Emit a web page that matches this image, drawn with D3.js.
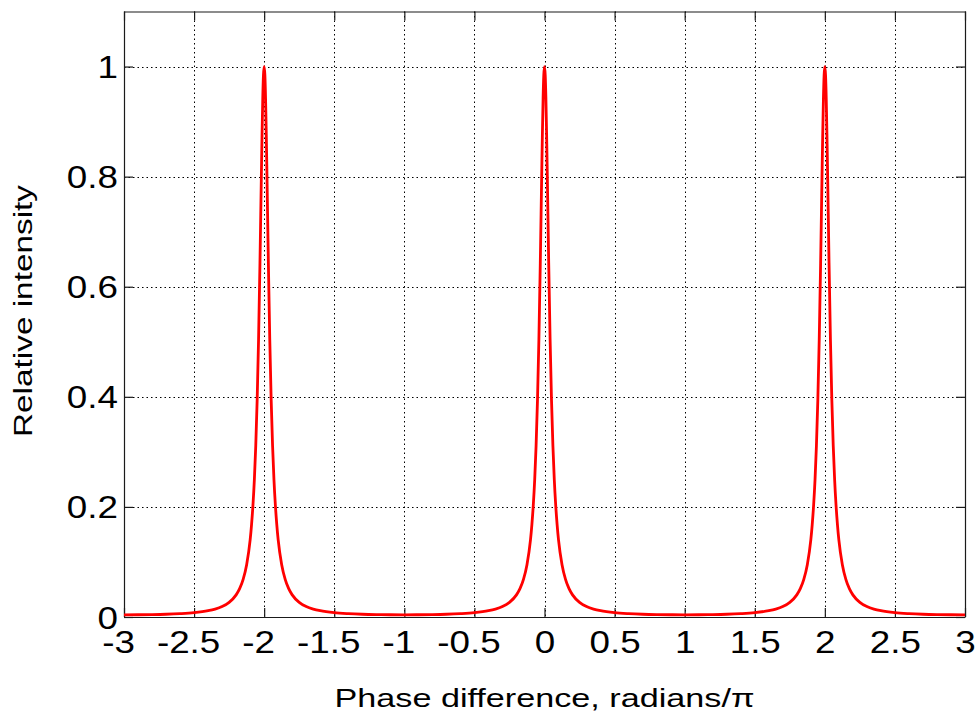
<!DOCTYPE html>
<html>
<head>
<meta charset="utf-8">
<script src="https://cdn.jsdelivr.net/npm/d3@7"></script>
<style>
  html, body { margin: 0; padding: 0; background: #fff; }
  svg { display: block; font-family: "Liberation Sans", Arial, Helvetica, sans-serif; }
</style>
</head>
<body>
<svg id="chart" width="979" height="720"></svg>
<script>
// Transmitted intensity versus phase difference (in units of pi)
const phase = [
  -3, -2.9, -2.8, -2.7, -2.6, -2.5, -2.4, -2.35, -2.3, -2.25, -2.2, -2.175, -2.15, -2.125, -2.1,
  -2.09, -2.08, -2.07, -2.06, -2.05, -2.04, -2.03, -2.02, -2.015, -2.01, -2.005,
  -2,
  -1.995, -1.99, -1.985, -1.98, -1.97, -1.96, -1.95, -1.94, -1.93, -1.92, -1.91,
  -1.9, -1.875, -1.85, -1.825, -1.8, -1.75, -1.7, -1.65, -1.6, -1.5, -1.4, -1.3, -1.2, -1.1,
  -1, -0.9, -0.8, -0.7, -0.6, -0.5, -0.4, -0.35, -0.3, -0.25, -0.2, -0.175, -0.15, -0.125, -0.1,
  -0.09, -0.08, -0.07, -0.06, -0.05, -0.04, -0.03, -0.02, -0.015, -0.01, -0.005,
  0,
  0.005, 0.01, 0.015, 0.02, 0.03, 0.04, 0.05, 0.06, 0.07, 0.08, 0.09,
  0.1, 0.125, 0.15, 0.175, 0.2, 0.25, 0.3, 0.35, 0.4, 0.5, 0.6, 0.7, 0.8, 0.9,
  1, 1.1, 1.2, 1.3, 1.4, 1.5, 1.6, 1.65, 1.7, 1.75, 1.8, 1.825, 1.85, 1.875, 1.9,
  1.91, 1.92, 1.93, 1.94, 1.95, 1.96, 1.97, 1.98, 1.985, 1.99, 1.995,
  2,
  2.005, 2.01, 2.015, 2.02, 2.03, 2.04, 2.05, 2.06, 2.07, 2.08, 2.09,
  2.1, 2.125, 2.15, 2.175, 2.2, 2.25, 2.3, 2.35, 2.4, 2.5, 2.6, 2.7, 2.8, 2.9, 3
];
const intensity = [
  0.0040, 0.0041, 0.0044, 0.0050, 0.0061, 0.0079, 0.0114, 0.0144, 0.0190, 0.0266, 0.0402, 0.0515, 0.0684, 0.0951, 0.140,
  0.168, 0.203, 0.249, 0.311, 0.394, 0.504, 0.643, 0.802, 0.878, 0.942, 0.985,
  1,
  0.985, 0.942, 0.878, 0.802, 0.643, 0.504, 0.394, 0.311, 0.249, 0.203, 0.168,
  0.140, 0.0951, 0.0684, 0.0515, 0.0402, 0.0266, 0.0190, 0.0144, 0.0114, 0.0079, 0.0061, 0.0050, 0.0044, 0.0041,
  0.0040, 0.0041, 0.0044, 0.0050, 0.0061, 0.0079, 0.0114, 0.0144, 0.0190, 0.0266, 0.0402, 0.0515, 0.0684, 0.0951, 0.140,
  0.168, 0.203, 0.249, 0.311, 0.394, 0.504, 0.643, 0.802, 0.878, 0.942, 0.985,
  1,
  0.985, 0.942, 0.878, 0.802, 0.643, 0.504, 0.394, 0.311, 0.249, 0.203, 0.168,
  0.140, 0.0951, 0.0684, 0.0515, 0.0402, 0.0266, 0.0190, 0.0144, 0.0114, 0.0079, 0.0061, 0.0050, 0.0044, 0.0041,
  0.0040, 0.0041, 0.0044, 0.0050, 0.0061, 0.0079, 0.0114, 0.0144, 0.0190, 0.0266, 0.0402, 0.0515, 0.0684, 0.0951, 0.140,
  0.168, 0.203, 0.249, 0.311, 0.394, 0.504, 0.643, 0.802, 0.878, 0.942, 0.985,
  1,
  0.985, 0.942, 0.878, 0.802, 0.643, 0.504, 0.394, 0.311, 0.249, 0.203, 0.168,
  0.140, 0.0951, 0.0684, 0.0515, 0.0402, 0.0266, 0.0190, 0.0144, 0.0114, 0.0079, 0.0061, 0.0050, 0.0044, 0.0041, 0.0040
];

const xTicks = [-3, -2.5, -2, -1.5, -1, -0.5, 0, 0.5, 1, 1.5, 2, 2.5, 3];
const xTickLabels = ["-3", "-2.5", "-2", "-1.5", "-1", "-0.5", "0", "0.5", "1", "1.5", "2", "2.5", "3"];
const yTicks = [0, 0.2, 0.4, 0.6, 0.8, 1];
const yTickLabels = ["0", "0.2", "0.4", "0.6", "0.8", "1"];
const xTitle = "Phase difference, radians/\u03C0";
const yTitle = "Relative intensity";

const svg = d3.select("#chart");
const plotLeft = 124, plotRight = 965, plotTop = 11.5, plotBottom = 617;
const axisColor = "#1a1a1a";
const tickLen = 9;
const stretch = 1.15;

const x = d3.scaleLinear().domain([-3, 3]).range([plotLeft, plotRight]);
const y = d3.scaleLinear().domain([0, 1.1]).range([plotBottom, plotTop]);

// dotted grid
const grid = svg.append("g").attr("stroke", "#000").attr("stroke-width", 1)
  .attr("stroke-dasharray", "1.5,3");
grid.selectAll("line.gx").data(xTicks.slice(1, -1)).join("line")
  .attr("x1", d => Math.round(x(d)) + 0.5).attr("x2", d => Math.round(x(d)) + 0.5)
  .attr("y1", plotTop).attr("y2", plotBottom);
grid.selectAll("line.gy").data(yTicks.slice(1)).join("line")
  .attr("y1", d => Math.round(y(d)) + 0.5).attr("y2", d => Math.round(y(d)) + 0.5)
  .attr("x1", plotLeft).attr("x2", plotRight);

// axes with inward ticks on all four sides
function styleAxis(g) {
  g.select(".domain").attr("stroke", axisColor).attr("stroke-width", 1.2);
  g.selectAll(".tick line").attr("stroke", axisColor).attr("stroke-width", 1.2);
}

const xAxis = svg.append("g").attr("transform", `translate(0,${plotBottom})`)
  .call(d3.axisBottom(x).tickValues(xTicks).tickSizeInner(-tickLen).tickSizeOuter(0)
    .tickFormat((d, i) => xTickLabels[i]));
styleAxis(xAxis);
xAxis.selectAll(".tick text")
  .attr("y", 0).attr("dy", null)
  .attr("transform", d => `translate(${d < 0 ? -6 : 0},36) scale(${stretch},1)`)
  .attr("fill", "#000").attr("font-size", 32)
  .attr("font-family", "'Liberation Sans', Arial, sans-serif");

const xAxisTop = svg.append("g").attr("transform", `translate(0,${plotTop})`)
  .call(d3.axisTop(x).tickValues(xTicks).tickSizeInner(-tickLen).tickSizeOuter(0).tickFormat(""));
styleAxis(xAxisTop);

const yAxis = svg.append("g").attr("transform", `translate(${plotLeft},0)`)
  .call(d3.axisLeft(y).tickValues(yTicks).tickSizeInner(-tickLen).tickSizeOuter(0)
    .tickFormat((d, i) => yTickLabels[i]));
styleAxis(yAxis);
yAxis.select(".domain").attr("d", `M0.5,${plotBottom}V${plotTop}`);
yAxis.selectAll(".tick text")
  .attr("x", 0).attr("dy", null).attr("y", 0)
  .attr("transform", `translate(-6,11) scale(${stretch},1)`)
  .attr("text-anchor", "end")
  .attr("fill", "#000").attr("font-size", 32)
  .attr("font-family", "'Liberation Sans', Arial, sans-serif");

const yAxisRight = svg.append("g").attr("transform", `translate(${plotRight},0)`)
  .call(d3.axisRight(y).tickValues(yTicks).tickSizeInner(-tickLen).tickSizeOuter(0).tickFormat(""));
styleAxis(yAxisRight);
yAxisRight.select(".domain").attr("d", `M0.5,${plotBottom}V${plotTop}`);

// intensity curve
const line = d3.line()
  .x((d, i) => x(phase[i]))
  .y(d => y(d))
  .curve(d3.curveMonotoneX);
svg.append("path")
  .attr("d", line(intensity))
  .attr("fill", "none")
  .attr("stroke", "#ff0000")
  .attr("stroke-width", 2.8)
  .attr("stroke-linejoin", "round");

// axis titles
svg.append("text")
  .attr("x", (plotLeft + plotRight) / 2).attr("y", 707)
  .attr("text-anchor", "middle")
  .attr("font-size", 26)
  .attr("textLength", 420).attr("lengthAdjust", "spacingAndGlyphs")
  .attr("fill", "#000")
  .text(xTitle);

svg.append("text")
  .attr("transform", "translate(32,311) rotate(-90)")
  .attr("text-anchor", "middle")
  .attr("font-size", 26)
  .attr("textLength", 252).attr("lengthAdjust", "spacingAndGlyphs")
  .attr("fill", "#000")
  .text(yTitle);
</script>
</body>
</html>
